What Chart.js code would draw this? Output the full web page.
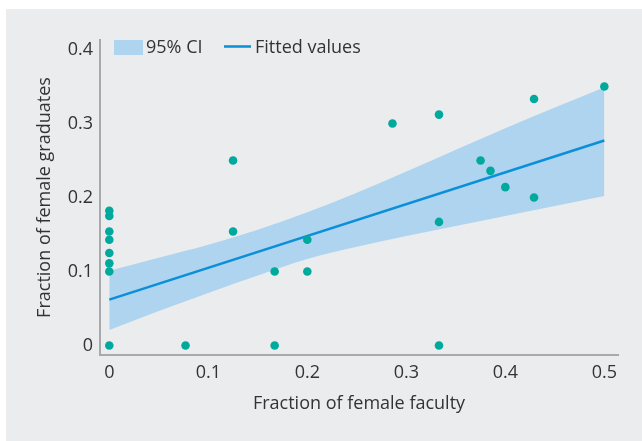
<!DOCTYPE html>
<html>
<head>
<meta charset="utf-8">
<script src="https://cdn.jsdelivr.net/npm/chart.js@4.4.1/dist/chart.umd.min.js"></script>
<style>
  html, body { margin: 0; padding: 0; background: #ffffff; }
  #panel { position: absolute; left: 6px; top: 9px; width: 636px; height: 432px; background: #ebeced; }
  canvas { display: block; }
</style>
</head>
<body>
<div id="panel"><canvas id="c" width="636" height="432"></canvas></div>
<script>
// ---- data ----
const facultyX   = [0, 0, 0, 0, 0, 0, 0, 0, 0.077, 0.125, 0.125, 0.167, 0.167, 0.2, 0.2, 0.286, 0.333, 0.333, 0.333, 0.375, 0.385, 0.4, 0.429, 0.429, 0.5];
const graduatesY = [0.182, 0.175, 0.154, 0.143, 0.125, 0.111, 0.1, 0, 0, 0.25, 0.154, 0.1, 0, 0.143, 0.1, 0.3, 0.312, 0.167, 0, 0.25, 0.236, 0.214, 0.333, 0.2, 0.35];
const fitX = [0, 0.5];
const fitY = [0.062, 0.277];
const ciX     = [0, 0.05, 0.1, 0.15, 0.2, 0.25, 0.3, 0.35, 0.4, 0.45, 0.5];
const ciUpper = [0.101, 0.1185, 0.136, 0.1565, 0.180, 0.2065, 0.235, 0.2645, 0.2935, 0.3215, 0.349];
const ciLower = [0.021, 0.0465, 0.071, 0.0945, 0.117, 0.1335, 0.148, 0.1615, 0.175, 0.1885, 0.202];
const xTicks = [0, 0.1, 0.2, 0.3, 0.4, 0.5];
const yTicks = [0, 0.1, 0.2, 0.3, 0.4];
const xTitle = 'Fraction of female faculty';
const yTitle = 'Fraction of female graduates';
const legendCI = '95% CI';
const legendFit = 'Fitted values';

const FONT = 'Open Sans';
const TEXT = '#333333';
const AXIS = '#a7a9ac';
const TEAL = '#00a99d';
const BLUE = '#0a8fd8';
const BAND = '#aed4f0';

const pts = (xs, ys) => xs.map((x, i) => ({x: x, y: ys[i]}));
const fmt = v => (Math.abs(v) < 1e-9 ? '0' : (Math.round(v * 10) / 10).toString());

const legendPlugin = {
  id: 'customLegend',
  afterDraw(chart) {
    const ctx = chart.ctx;
    ctx.save();
    ctx.fillStyle = BAND;
    ctx.fillRect(108, 31, 29, 15);
    ctx.strokeStyle = BLUE;
    ctx.lineWidth = 2.5;
    ctx.beginPath();
    ctx.moveTo(218, 37.5);
    ctx.lineTo(245, 37.5);
    ctx.stroke();
    ctx.fillStyle = TEXT;
    ctx.font = '18px "' + FONT + '"';
    ctx.textBaseline = 'middle';
    ctx.textAlign = 'left';
    ctx.fillText(legendCI, 140, 39);
    ctx.fillText(legendFit, 249, 39);
    ctx.restore();
  }
};

new Chart(document.getElementById('c'), {
  type: 'scatter',
  data: {
    datasets: [
      { label: 'Observed', data: pts(facultyX, graduatesY), backgroundColor: TEAL, borderWidth: 0, pointRadius: 4.3, showLine: false },
      { label: legendFit, data: pts(fitX, fitY), showLine: true, borderColor: BLUE, borderWidth: 2.5, pointRadius: 0, fill: false },
      { label: 'CI lower', data: pts(ciX, ciLower), showLine: true, borderWidth: 0, borderColor: 'rgba(0,0,0,0)', pointRadius: 0, fill: false, cubicInterpolationMode: 'monotone' },
      { label: legendCI, data: pts(ciX, ciUpper), showLine: true, borderWidth: 0, borderColor: 'rgba(0,0,0,0)', pointRadius: 0, fill: '-1', backgroundColor: BAND, cubicInterpolationMode: 'monotone' }
    ]
  },
  options: {
    responsive: false,
    animation: false,
    events: [],
    layout: { padding: { top: 31, right: 24, left: 0, bottom: 0 } },
    plugins: { legend: { display: false }, tooltip: { enabled: false } },
    scales: {
      x: {
        type: 'linear',
        min: -0.0094, max: 0.5138,
        afterBuildTicks: s => { s.ticks = xTicks.map(v => ({value: v})); },
        afterFit: s => { s.height = 86; },
        grid: { display: false, drawTicks: false },
        border: { display: true, color: AXIS, width: 2 },
        ticks: { color: TEXT, font: { family: FONT, size: 18 }, padding: 7, callback: v => fmt(v), maxRotation: 0 },
        title: { display: true, text: xTitle, color: TEXT, font: { family: FONT, size: 18 }, padding: { top: 0, bottom: 26 } }
      },
      y: {
        type: 'linear',
        min: -0.0128, max: 0.4128,
        afterBuildTicks: s => { s.ticks = yTicks.map(v => ({value: v})); },
        afterFit: s => { s.width = 94; },
        grid: { display: false, drawTicks: false },
        border: { display: true, color: AXIS, width: 2 },
        ticks: { color: TEXT, font: { family: FONT, size: 18 }, padding: 7, callback: v => fmt(v) },
        title: { display: true, text: yTitle, color: TEXT, font: { family: FONT, size: 18 }, padding: { top: 28, bottom: 0 } }
      }
    }
  },
  plugins: [legendPlugin]
});
</script>
</body>
</html>
